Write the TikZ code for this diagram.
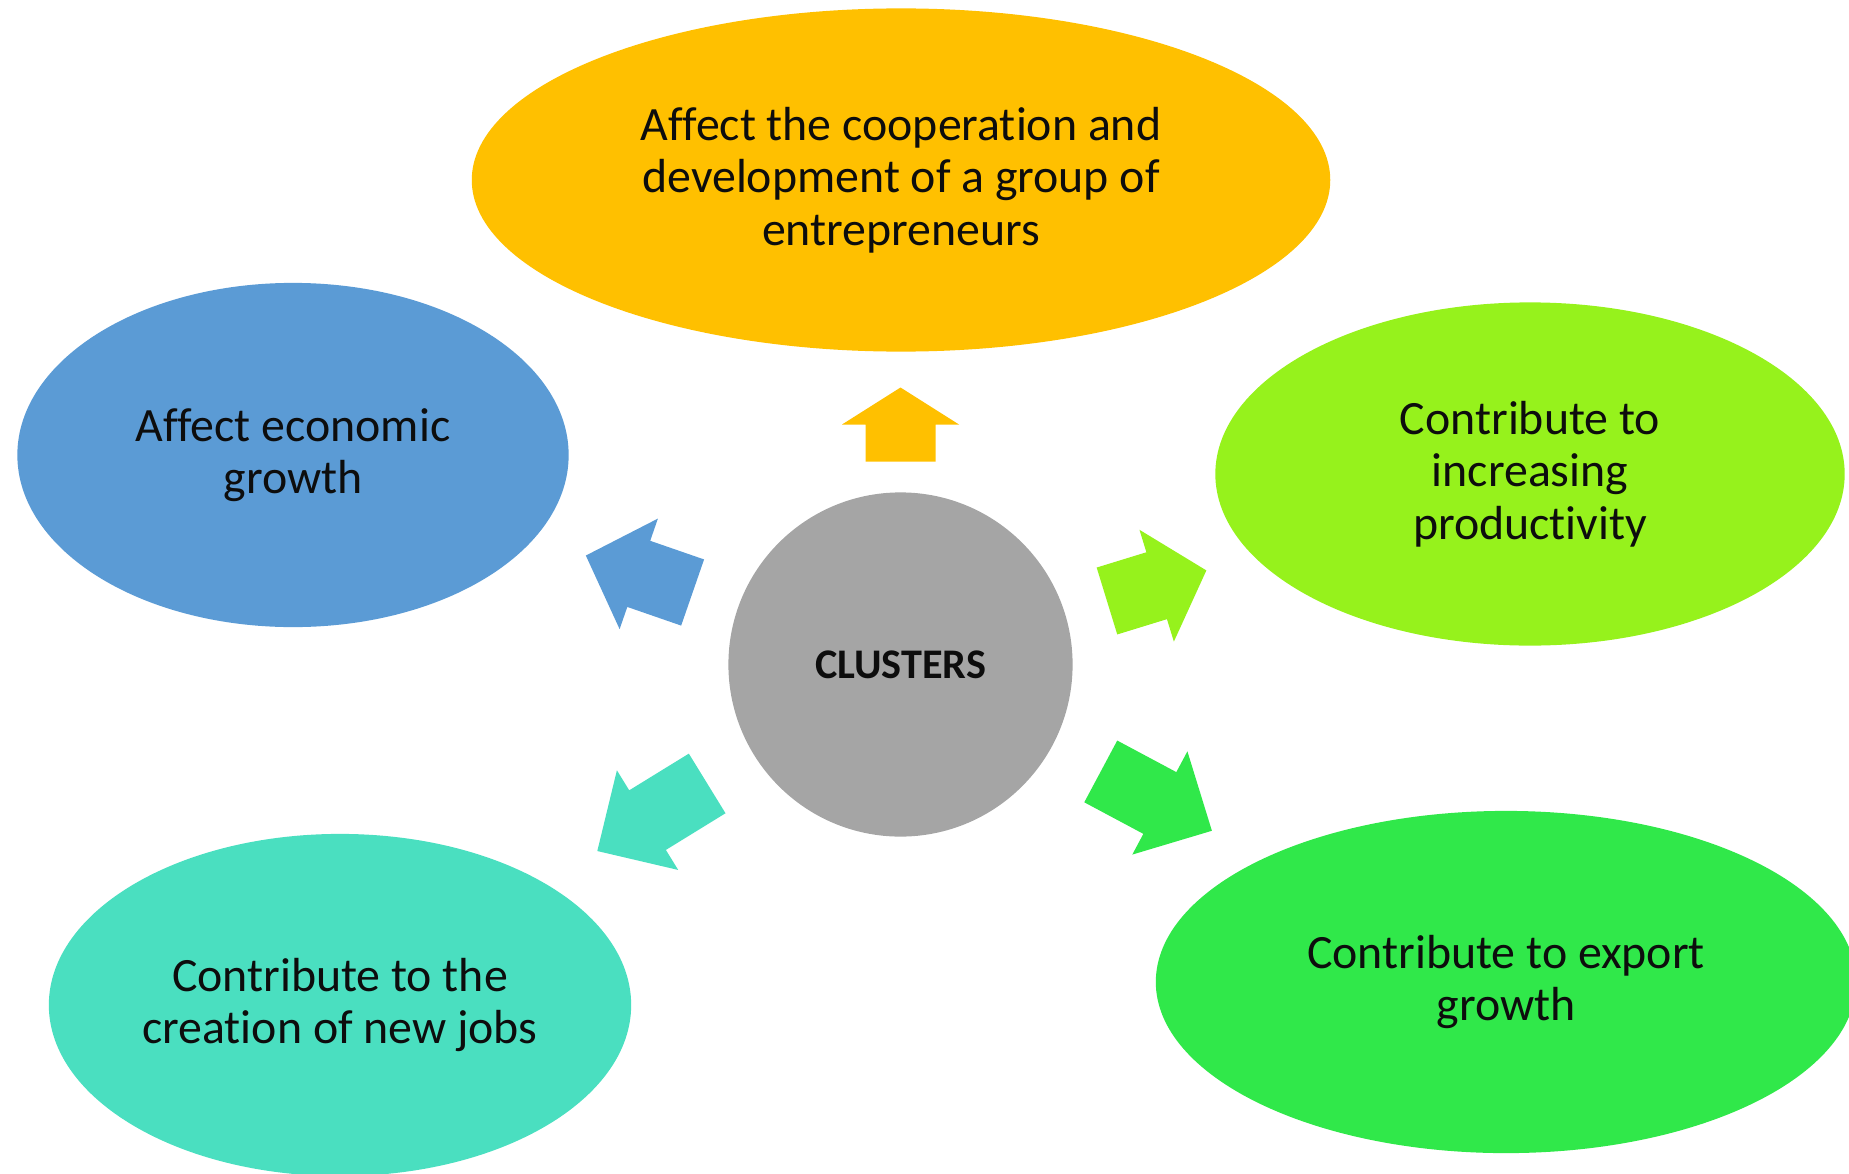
\documentclass[tikz,border=0pt]{standalone}
\usepackage{fontspec}
\setmainfont{Carlito}[Ligatures=NoCommon]
\usetikzlibrary{shapes.geometric}
\definecolor{clusgray}{HTML}{A5A5A5}
\definecolor{coopyellow}{HTML}{FFC000}
\definecolor{econblue}{HTML}{5B9BD5}
\definecolor{prodgreen}{HTML}{96F21C}
\definecolor{exportgreen}{HTML}{30E84A}
\definecolor{jobsteal}{HTML}{4ADFC0}
\tikzstyle{bubble}=[ellipse,inner sep=0,align=center,text=black!95,font=\fontsize{13.6}{14.9}\selectfont]

\begin{document}
\begin{tikzpicture}[x=0.01cm,y=-0.01cm,
    hub/.style={circle,fill=clusgray,inner sep=0,minimum size=3.44cm,text=black!95,font=\bfseries\fontsize{12}{14}\selectfont}
    ]
    \useasboundingbox (0,0) rectangle (1849,1173);
    \clip (0,0) rectangle (1849,1173);

    % centre
    \node[hub] (clusters) at (900.5,664.5) {CLUSTERS};

    % outer ellipses
    \node[bubble,fill=coopyellow,minimum width=8.58cm,minimum height=3.43cm] (coop) at (901,180)
      {Affect the cooperation and\\development of a group of\\entrepreneurs};
    \node[bubble,fill=econblue,minimum width=5.51cm,minimum height=3.44cm] (econ) at (293,455)
      {Affect economic\\growth};
    \node[bubble,fill=prodgreen,minimum width=6.29cm,minimum height=3.43cm] (prod) at (1530,474)
      {Contribute to\\increasing\\productivity};
    \node[bubble,fill=jobsteal,minimum width=5.82cm,minimum height=3.42cm] (jobs) at (340,1005)
      {Contribute to the\\creation of new jobs};
    \node[bubble,fill=exportgreen,minimum width=7.0cm,minimum height=3.42cm] (export) at (1506,982)
      {Contribute to export\\growth};

    % block arrows out of the centre
    \foreach \ang/\r/\s/\h/\col in {90/203/37/37/coopyellow,160.9/220/57/56/econblue,
        17.1/216/52/52/prodgreen,-28.1/227/67/59/exportgreen,211.6/227/70/59/jobsteal} {
      \fill[fill=\col,shift={(clusters)},rotate=\ang]
        (\r,-35) -- ++(\s,0) -- ++(0,-23.5) -- (\r+\s+\h,0)
        -- (\r+\s,58.5) -- ++(0,-23.5) -- (\r,35) -- cycle;
    }

\end{tikzpicture}
\end{document}
